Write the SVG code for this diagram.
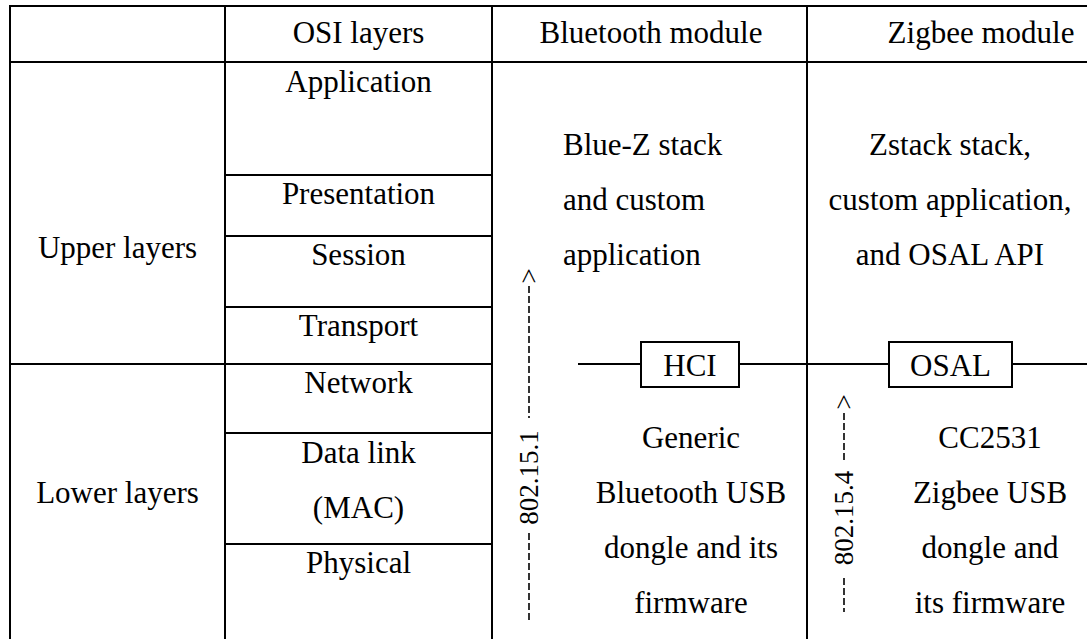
<svg xmlns="http://www.w3.org/2000/svg" width="1087" height="639" viewBox="0 0 1087 639">
  <style>
    .ln { stroke: #000; stroke-width: 2; fill: none; }
    .box { stroke: #000; stroke-width: 2; fill: #fff; }
    .dash { stroke: #000; stroke-width: 1.6; stroke-dasharray: 7 3; fill: none; }
    .t { font-family: 'Liberation Serif', 'Times New Roman', serif; font-size: 31px; fill: #000; }
    .c { text-anchor: middle; }
    .lbl { font-size: 27px; }
  </style>
  <rect width="1087" height="639" fill="#fff"/>

  <!-- table grid -->
  <g id="grid">
    <line class="ln" x1="10" y1="6" x2="1087" y2="6"/>
    <line class="ln" x1="10" y1="62" x2="1087" y2="62"/>
    <line class="ln" x1="10" y1="5" x2="10" y2="639"/>
    <line class="ln" x1="225" y1="5" x2="225" y2="639"/>
    <line class="ln" x1="492" y1="5" x2="492" y2="639"/>
    <line class="ln" x1="807" y1="5" x2="807" y2="639"/>
    <line class="ln" x1="225" y1="175" x2="492" y2="175"/>
    <line class="ln" x1="225" y1="236" x2="492" y2="236"/>
    <line class="ln" x1="225" y1="307" x2="492" y2="307"/>
    <line class="ln" x1="225" y1="433" x2="492" y2="433"/>
    <line class="ln" x1="225" y1="544" x2="492" y2="544"/>
    <line class="ln" x1="10" y1="364" x2="492" y2="364"/>
  </g>

  <!-- interface line between upper and lower stacks -->
  <g id="connectors">
    <line class="ln" x1="578" y1="364" x2="641" y2="364"/>
    <line class="ln" x1="739" y1="364" x2="889" y2="364"/>
    <line class="ln" x1="1012" y1="364" x2="1087" y2="364"/>
  </g>

  <g class="t">
  <!-- header row -->
  <g id="header">
    <text class="c" x="358.5" y="43">OSI layers</text>
    <text class="c" x="651" y="43">Bluetooth module</text>
    <text class="c" x="981" y="43">Zigbee module</text>
  </g>

  <!-- layer groups -->
  <g id="upper-layers"><text class="c" x="117.5" y="258">Upper layers</text></g>
  <g id="lower-layers"><text class="c" x="117.5" y="503">Lower layers</text></g>

  <!-- OSI layers -->
  <g id="osi-application"><text class="c" x="358.5" y="92">Application</text></g>
  <g id="osi-presentation"><text class="c" x="358.5" y="204">Presentation</text></g>
  <g id="osi-session"><text class="c" x="358.5" y="265">Session</text></g>
  <g id="osi-transport"><text class="c" x="358.5" y="336">Transport</text></g>
  <g id="osi-network"><text class="c" x="358.5" y="393">Network</text></g>
  <g id="osi-datalink">
    <text class="c" x="358.5" y="463">Data link</text>
    <text class="c" x="358.5" y="518">(MAC)</text>
  </g>
  <g id="osi-physical"><text class="c" x="358.5" y="573">Physical</text></g>

  <!-- Bluetooth module -->
  <g id="bt-stack">
    <text x="563" y="155">Blue-Z stack</text>
    <text x="563" y="210">and custom</text>
    <text x="563" y="265">application</text>
  </g>
  <g id="hci">
    <rect class="box" x="641" y="342" width="98" height="45"/>
    <text class="c" x="690" y="376">HCI</text>
  </g>
  <g id="bt-dongle">
    <text class="c" x="691" y="448">Generic</text>
    <text class="c" x="691" y="503">Bluetooth USB</text>
    <text class="c" x="691" y="558">dongle and its</text>
    <text class="c" x="691" y="613">firmware</text>
  </g>
  <g id="range-802-15-1">
    <line class="dash" x1="529" y1="286" x2="529" y2="418"/>
    <line class="dash" x1="529" y1="533" x2="529" y2="622"/>
    <text class="lbl c" transform="translate(538 477.5) rotate(-90)">802.15.1</text>
    <text class="lbl c" transform="translate(538 276) rotate(-90)">&gt;</text>
  </g>

  <!-- Zigbee module -->
  <g id="zb-stack">
    <text class="c" x="950" y="155">Zstack stack,</text>
    <text class="c" x="950" y="210">custom application,</text>
    <text class="c" x="950" y="265">and OSAL API</text>
  </g>
  <g id="osal">
    <rect class="box" x="889" y="342" width="123" height="45"/>
    <text class="c" x="950.5" y="376">OSAL</text>
  </g>
  <g id="zb-dongle">
    <text class="c" x="990" y="448">CC2531</text>
    <text class="c" x="990" y="503">Zigbee USB</text>
    <text class="c" x="990" y="558">dongle and</text>
    <text class="c" x="990" y="613">its firmware</text>
  </g>
  <g id="range-802-15-4">
    <line class="dash" x1="844" y1="413" x2="844" y2="460"/>
    <line class="dash" x1="844" y1="578" x2="844" y2="612"/>
    <text class="lbl c" transform="translate(853 518) rotate(-90)">802.15.4</text>
    <text class="lbl c" transform="translate(853 402) rotate(-90)">&gt;</text>
  </g>
  </g>
</svg>
